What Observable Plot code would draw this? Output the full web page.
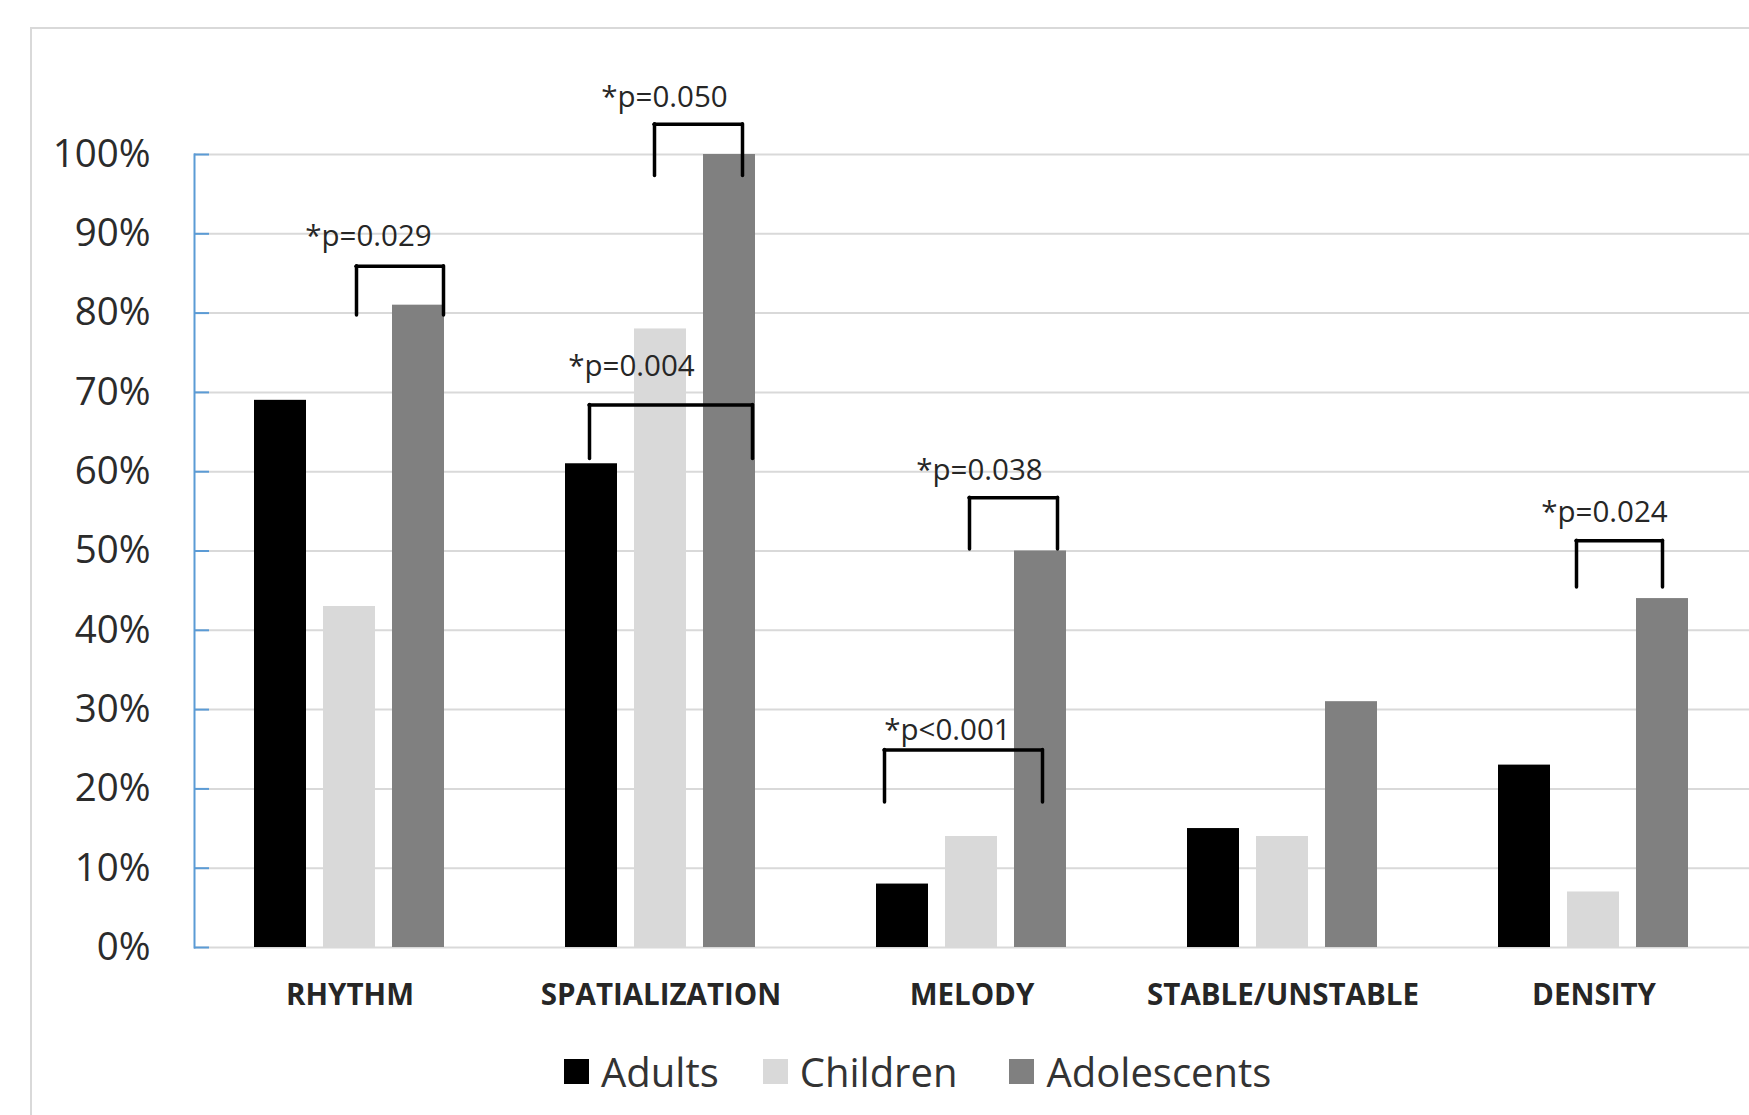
<!DOCTYPE html>
<html>
<head>
<meta charset="utf-8">
<script src="https://cdn.jsdelivr.net/npm/d3@7"></script>
<script src="https://cdn.jsdelivr.net/npm/@observablehq/plot@0.6"></script>
<style>
  html, body { margin: 0; padding: 0; background: #fff; }
  #wrap { position: relative; width: 1749px; height: 1115px; overflow: hidden; font-family: "Open Sans", sans-serif; }
  #frame { position: absolute; left: 30px; top: 27px; width: 2000px; height: 2000px; border-left: 2px solid #d9d9d9; border-top: 2px solid #d9d9d9; }
  #chart { position: absolute; left: 0; top: 0; }
  #legend { position: absolute; left: 564px; top: 1046px; height: 50px; display: flex; align-items: center; font-size: 40px; color: #333; }
  .item { display: flex; align-items: center; }
  .sw { width: 25px; height: 25px; margin-right: 12px; }
</style>
</head>
<body>
<div id="wrap">
  <div id="frame"></div>
  <div id="chart"></div>
  <div id="legend"></div>
</div>
<script>
// ---- data ----
const categories = ["RHYTHM", "SPATIALIZATION", "MELODY", "STABLE/UNSTABLE", "DENSITY"];
const groups = ["Adults", "Children", "Adolescents"];
const adults      = [0.69, 0.61, 0.08, 0.15, 0.23];
const children    = [0.43, 0.78, 0.14, 0.14, 0.07];
const adolescents = [0.81, 1.00, 0.50, 0.31, 0.44];
const groupColors = ["#000000", "#d9d9d9", "#808080"];
const yTicks = [0, 0.1, 0.2, 0.3, 0.4, 0.5, 0.6, 0.7, 0.8, 0.9, 1.0];

// significance brackets
const bracketCategory = ["RHYTHM", "SPATIALIZATION", "SPATIALIZATION", "MELODY", "MELODY", "DENSITY"];
const bracketFrom     = ["Children", "Children", "Adults", "Children", "Adults", "Children"];
const bracketTo       = ["Adolescents", "Adolescents", "Adolescents", "Adolescents", "Adolescents", "Adolescents"];
const bracketLow      = [0.797, 0.973, 0.616, 0.502, 0.183, 0.454];
const bracketHigh     = [0.859, 1.038, 0.684, 0.567, 0.249, 0.513];
const bracketLabel    = ["*p=0.029", "*p=0.050", "*p=0.004", "*p=0.038", "*p<0.001", "*p=0.024"];
const bracketLabelY   = [0.896, 1.072, 0.733, 0.602, 0.274, 0.549];

// ---- build table ----
const series = [adults, children, adolescents];
const rows = [];
categories.forEach((c, i) => groups.forEach((g, j) => rows.push({category: c, group: g, value: series[j][i]})));

const scaleOptions = {
  width: 1749,
  height: 1040,
  marginLeft: 194,
  marginRight: 0,
  marginTop: 154,
  marginBottom: 93,
  style: {fontFamily: "Open Sans, sans-serif", background: "transparent", overflow: "visible"},
  fx: {domain: categories, padding: 0},
  x: {domain: groups, paddingInner: 0.24, paddingOuter: 0.86, axis: null},
  y: {domain: [0, 1]},
  color: {domain: groups, range: groupColors}
};

const barMark = Plot.barY(rows, {fx: "category", x: "group", y: "value", fill: "group"});

// probe the band width of the inner x scale
const probe = Plot.plot({...scaleOptions, marks: [barMark]});
const bw = probe.scale("x").bandwidth;

// hand-placed annotation offsets (px) of bracket ends relative to bar centres
const leftNudge  = [7, -6, -2, -2, -18, -17];
const rightNudge = [25, 13, 23, 17, 2, 0];
const labelNudge = [19, 4, -29, 8, -24, 11];

const bStyle = {stroke: "#000", strokeWidth: 3.5, strokeLinecap: "round"};
const bracketMarks = [];
bracketCategory.forEach((c, i) => {
  const d = [{fx: c, from: bracketFrom[i], to: bracketTo[i], low: bracketLow[i], high: bracketHigh[i], t: bracketLabel[i], ly: bracketLabelY[i], mid: "Children"}];
  bracketMarks.push(Plot.ruleX(d, {fx: "fx", x: "from", y1: "low", y2: "high", dx: leftNudge[i], ...bStyle}));
  bracketMarks.push(Plot.ruleX(d, {fx: "fx", x: "to", y1: "low", y2: "high", dx: rightNudge[i], ...bStyle}));
  bracketMarks.push(Plot.ruleY(d, {fx: "fx", x1: "from", x2: "to", y: "high",
    insetLeft: bw / 2 + leftNudge[i], insetRight: bw / 2 - rightNudge[i], ...bStyle}));
  bracketMarks.push(Plot.text(d, {fx: "fx", x: "mid", y: "ly", text: "t", dx: labelNudge[i],
    fontSize: 29.5, fill: "#262626", textAnchor: "middle", lineAnchor: "middle"}));
});

const chart = Plot.plot({
  ...scaleOptions,
  marks: [
    Plot.ruleY(yTicks, {stroke: "#d9d9d9", strokeWidth: 2}),
    barMark,
    Plot.frame({anchor: "left", stroke: "#5b9bd5", strokeWidth: 2, facetAnchor: "left"}),
    Plot.axisY(yTicks, {tickSize: -15, stroke: "#5b9bd5", strokeWidth: 2, fill: "none", label: null}),
    Plot.axisY(yTicks, {tickSize: 0, tickPadding: 44, tickFormat: d3.format(".0%"), fontSize: 38.5, fill: "#2b2b2b", label: null}),
    Plot.axisFx({anchor: "bottom", tickSize: 0, tickPadding: 37, fontSize: 29.5, fontWeight: "bold", fill: "#262626", label: null}),
    ...bracketMarks
  ]
});
document.getElementById("chart").appendChild(chart);

// legend
const legend = document.getElementById("legend");
groups.forEach((g, j) => {
  const item = document.createElement("div");
  item.className = "item";
  item.style.marginRight = j === 0 ? "44px" : "52px";
  const sw = document.createElement("div");
  sw.className = "sw";
  sw.style.background = groupColors[j];
  const t = document.createElement("span");
  t.textContent = g;
  item.appendChild(sw);
  item.appendChild(t);
  legend.appendChild(item);
});
</script>
</body>
</html>
